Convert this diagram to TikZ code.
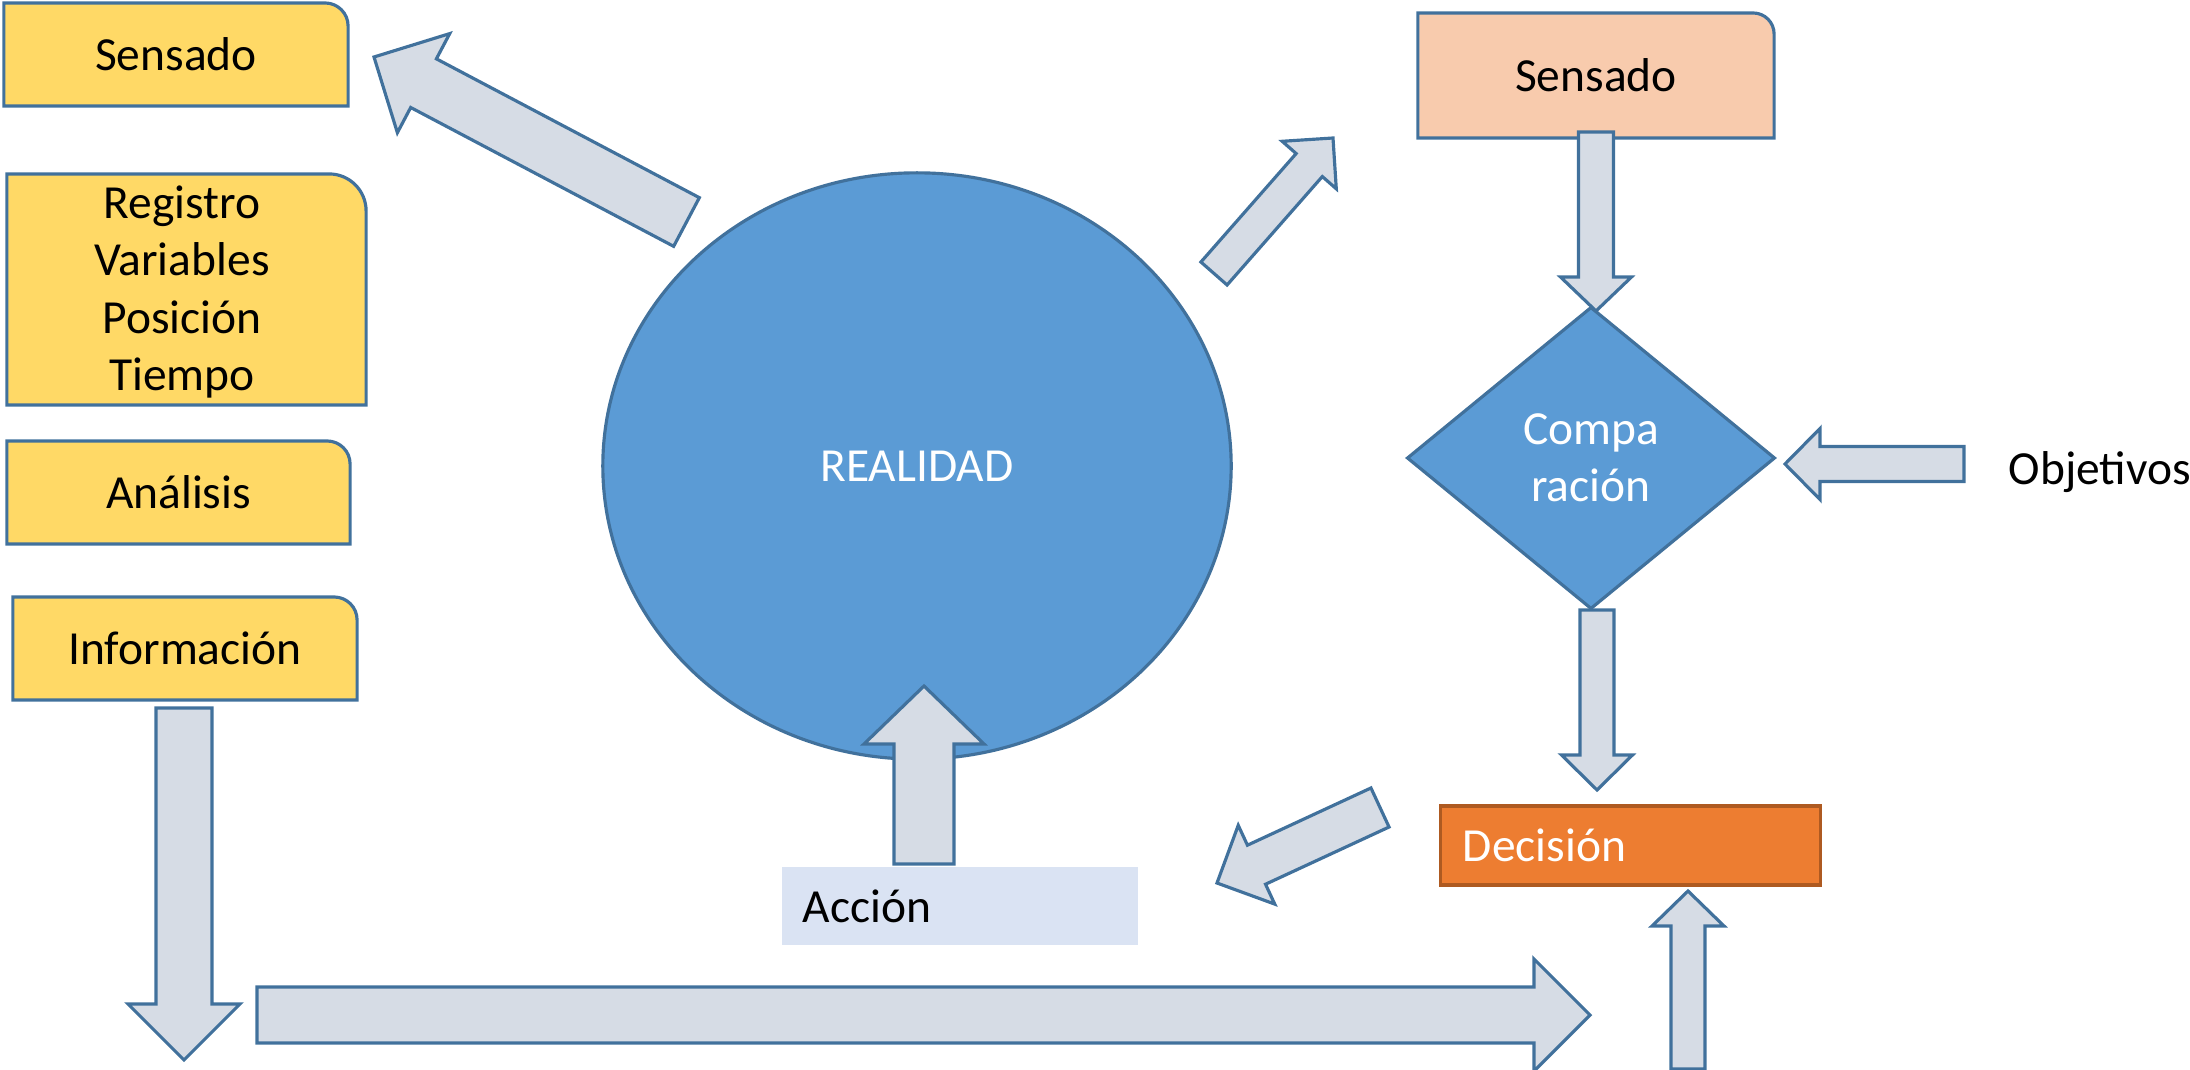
\documentclass[tikz,border=0pt]{standalone}
\usepackage{fontspec}
\setmainfont{Carlito}
\usetikzlibrary{calc,shapes.geometric}
\definecolor{ybox}{HTML}{FFD966}
\definecolor{peach}{HTML}{F8CBAD}
\definecolor{mblue}{HTML}{5B9BD5}
\definecolor{sblue}{HTML}{41719C}
\definecolor{afill}{HTML}{D6DCE5}
\definecolor{accfill}{HTML}{DAE3F3}
\definecolor{orfill}{HTML}{ED7D31}
\definecolor{orline}{HTML}{AE5A21}
\newcommand\myfs{\fontsize{13.5}{16.36}\selectfont}
\tikzset{
  outl/.style={draw=sblue, line width=0.9pt},
  blockarrow/.style={draw=sblue, fill=afill, line width=0.9pt, line join=miter},
  boxshape/.style={inner sep=0pt, outer sep=0pt},
  btext/.style={font=\myfs, text=black, align=center, inner sep=0pt},
  wtext/.style={font=\myfs, text=white, align=center},
}
\newcommand\rtbox[3]{%
  \draw[outl, fill=#3] (#1.south west) -- (#1.north west) -- ([xshift=-#2]#1.north east)
    arc[start angle=90, end angle=0, radius=#2] -- (#1.south east) -- cycle;}
\newcommand\blockarr[5]{%
  \coordinate (ba-h) at ($(#2)!#5!(#1)$);
  \draw[blockarrow] ($(#1)!#3!90:(#2)$) -- ($(ba-h)!#3!90:(#2)$) -- ($(ba-h)!#4!90:(#2)$)
    -- (#2) -- ($(ba-h)!#4!-90:(#2)$) -- ($(ba-h)!#3!-90:(#2)$) -- ($(#1)!#3!-90:(#2)$) -- cycle;}
\begin{document}
\begin{tikzpicture}[x=0.01cm, y=-0.01cm]
\useasboundingbox (0,0) rectangle (2190,1070);

% left boxes
\node[boxshape, minimum width=3.44cm, minimum height=1.03cm] (sensL) at (176,54.5) {};
\rtbox{sensL}{0.23cm}{ybox}
\node[btext] (sensLt) at (sensL) {Sensado};

\node[boxshape, minimum width=3.59cm, minimum height=2.31cm] (reg) at (186.5,289.5) {};
\rtbox{reg}{0.37cm}{ybox}
\node[btext] (regt) at (182,292) {Registro\\Variables\\Posición\\Tiempo};

\node[boxshape, minimum width=3.43cm, minimum height=1.03cm] (anal) at (178.5,492.5) {};
\rtbox{anal}{0.23cm}{ybox}
\node[btext] (analt) at (anal) {Análisis};

\node[boxshape, minimum width=3.44cm, minimum height=1.03cm] (info) at (185,648.5) {};
\rtbox{info}{0.23cm}{ybox}
\node[btext] (infot) at (info) {Información};

% right sensado
\node[boxshape, minimum width=3.56cm, minimum height=1.25cm] (sensR) at (1596,75.5) {};
\rtbox{sensR}{0.21cm}{peach}
\node[btext] (sensRt) at (sensR) {Sensado};

% ellipse
\node[ellipse, outl, fill=mblue, minimum width=6.28cm, minimum height=5.86cm, inner sep=0pt, wtext] (real) at (917,466) {REALIDAD};

% diamond
\node[diamond, outl, fill=mblue, minimum width=3.68cm, minimum height=3.02cm, inner sep=0pt, wtext] (comp) at (1591,458) {Compa\\ración};

% Accion
\node[fill=accfill, minimum height=0.78cm, text width=3.14cm, inner xsep=0.21cm, inner ysep=0pt, align=left, font=\myfs] (acc) at (960,906) {Acción};

% Decision
\node[fill=orfill, draw=orline, line width=0.9pt, minimum height=0.79cm, text width=3.35cm, inner xsep=0.22cm, inner ysep=0pt, align=left, font=\myfs, text=white] (dec) at (1630.5,845.5) {Decisión};

% Objetivos
\node[font=\myfs, anchor=base west, inner sep=0pt] (obj) at (2008,484) {Objetivos};

% arrow end points
\coordinate (aAs) at (686.5,222);  \coordinate (aAt) at (374,57);
\coordinate (aBs) at (1214,273.5); \coordinate (aBt) at (1333,138);
\coordinate (aCs) at (1596,132);   \coordinate (aCt) at (1596,311);
\coordinate (aDs) at (1964,464);   \coordinate (aDt) at (1785,464);
\coordinate (aEs) at (1597,610);   \coordinate (aEt) at (1597,790);
\coordinate (aFs) at (1688,1069);  \coordinate (aFt) at (1688,891);
\coordinate (aGs) at (257,1015);   \coordinate (aGt) at (1590,1015);
\coordinate (aHs) at (184,708);    \coordinate (aHt) at (184,1060);
\coordinate (aIs) at (924,864);    \coordinate (aIt) at (924,686);
\coordinate (aJs) at (1380,807.5); \coordinate (aJt) at (1217,883);

\blockarr{aAs}{aAt}{0.275cm}{0.56cm}{0.56cm}
\blockarr{aBs}{aBt}{0.174cm}{0.36cm}{0.36cm}
\blockarr{aCs}{aCt}{0.175cm}{0.355cm}{0.34cm}
\blockarr{aDs}{aDt}{0.175cm}{0.355cm}{0.35cm}
\blockarr{aEs}{aEt}{0.17cm}{0.355cm}{0.35cm}
\blockarr{aFs}{aFt}{0.17cm}{0.36cm}{0.35cm}
\blockarr{aGs}{aGt}{0.28cm}{0.56cm}{0.56cm}
\blockarr{aHs}{aHt}{0.28cm}{0.56cm}{0.56cm}
\blockarr{aIs}{aIt}{0.30cm}{0.60cm}{0.58cm}
\blockarr{aJs}{aJt}{0.215cm}{0.434cm}{0.435cm}
\end{tikzpicture}
\end{document}
